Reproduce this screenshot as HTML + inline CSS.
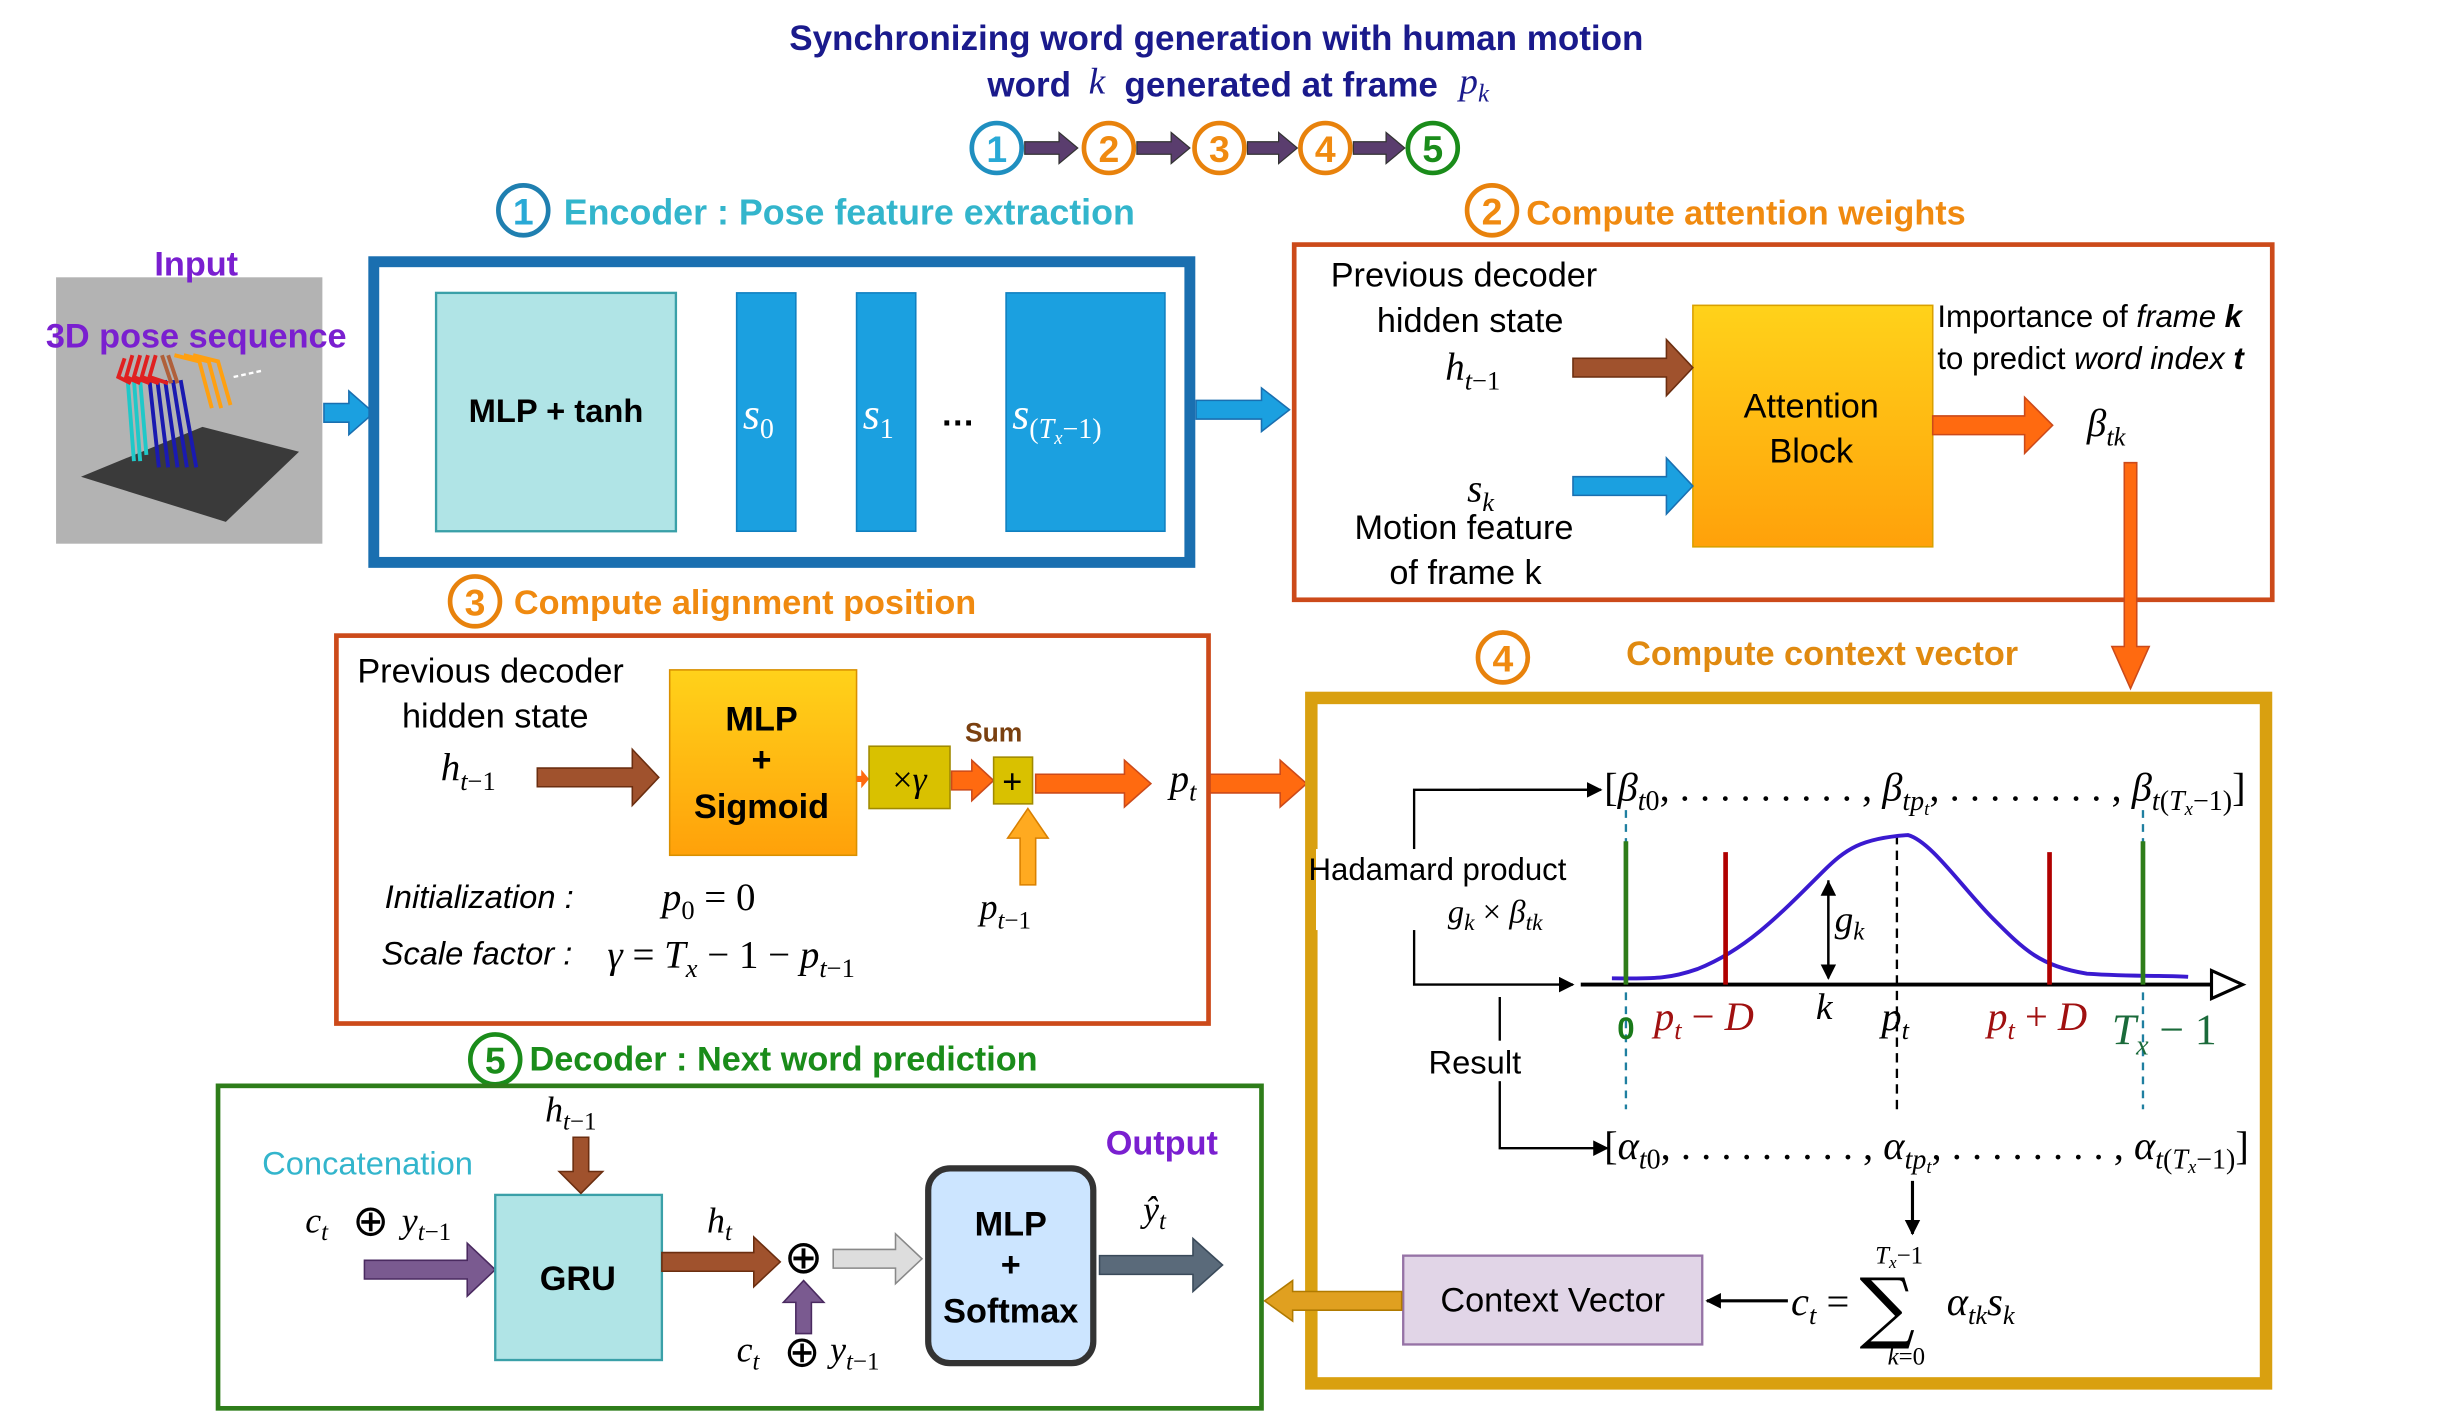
<!DOCTYPE html>
<html><head><meta charset="utf-8"><style>
html,body{margin:0;padding:0;background:#fff;}
svg{display:block;}
.s{font-family:"Liberation Sans",sans-serif;}
.m{font-family:"Liberation Serif",serif;font-style:italic;}
</style></head><body>
<svg width="2442" height="1413" viewBox="0 0 1568 907" preserveAspectRatio="none" xmlns="http://www.w3.org/2000/svg">
<defs>
<linearGradient id="og" x1="0" y1="0" x2="0" y2="1"><stop offset="0" stop-color="#ffd21a"/><stop offset="1" stop-color="#ffa10a"/></linearGradient>
<marker id="ah" markerWidth="10" markerHeight="10" refX="9" refY="5" orient="auto" markerUnits="userSpaceOnUse"><path d="M0,0 L10,5 L0,10 z" fill="#000"/></marker>
</defs>
<rect width="1568" height="907" fill="#fff"/>

<text x="781" y="32" class="s" font-weight="bold" fill="#1a1a8c" font-size="22.5" text-anchor="middle">Synchronizing word generation with human motion</text>
<text x="634" y="62" class="s" font-weight="bold" fill="#1a1a8c" font-size="22.5">word</text>
<text x="699" y="60" class="m" font-size="24" fill="#1a1a8c">k</text>
<text x="722" y="62" class="s" font-weight="bold" fill="#1a1a8c" font-size="22.5">generated at frame</text>
<text x="937" y="60" class="m" font-size="24" fill="#1a1a8c">p<tspan font-size="16" dy="5">k</tspan></text>

<g stroke-width="3" fill="none">
<circle cx="640" cy="95" r="16" stroke="#1f8fc0"/><circle cx="712" cy="95" r="16" stroke="#e8820c"/>
<circle cx="783" cy="95" r="16" stroke="#e8820c"/><circle cx="851" cy="95" r="16" stroke="#e8820c"/>
<circle cx="920" cy="95" r="16" stroke="#1a8c1a"/>
</g>
<g class="s" font-weight="bold" font-size="24" text-anchor="middle">
<text x="640" y="104" fill="#29a9d6">1</text><text x="712" y="104" fill="#f08a10">2</text>
<text x="783" y="104" fill="#f08a10">3</text><text x="851" y="104" fill="#f08a10">4</text>
<text x="920" y="104" fill="#1a8c1a">5</text>
</g>
<g fill="#5a3d6e" stroke="#333" stroke-width="0.8">
<polygon points="658,91 680,91 680,85 692,95 680,105 680,99 658,99"/>
<polygon points="730,91 752,91 752,85 764,95 752,105 752,99 730,99"/>
<polygon points="801,91 821,91 821,85 833,95 821,105 821,99 801,99"/>
<polygon points="869,91 890,91 890,85 902,95 890,105 890,99 869,99"/>
</g>

<circle cx="336" cy="135" r="16" fill="none" stroke="#1f7fb0" stroke-width="3"/>
<text x="336" y="144" class="s" font-weight="bold" font-size="24" text-anchor="middle" fill="#29a9d6">1</text>
<text x="362" y="144" class="s" font-weight="bold" font-size="23" fill="#33b5cc">Encoder : Pose feature extraction</text>

<rect x="36" y="178" width="171" height="171" fill="#b3b3b3"/>
<polygon points="52,306 130,274 192,290 145,335" fill="#3a3a3a"/>
<g stroke-width="2.5" fill="none">
<path d="M82,244 L86,296 M86,244 L90,296 M90,244 L94,292" stroke="#20c8c8"/>
<path d="M96,244 L102,300 M101,244 L108,300 M106,244 L114,300 M111,244 L120,300 M116,244 L126,300" stroke="#1a1ab0"/>
<path d="M80,230 L76,242 L84,246 M85,228 L81,242 L90,246 M90,228 L86,242 L96,246 M95,228 L91,242 L102,246 M100,228 L96,242 L108,246" stroke="#e02020"/>
<path d="M104,228 L110,246 M108,228 L114,246" stroke="#b0603a"/>
<path d="M112,228 L128,232 L136,262 M118,228 L134,232 L142,262 M124,228 L140,232 L148,260" stroke="#ffa010"/>
<path d="M150,242 L168,238" stroke="#fff" stroke-dasharray="3,2" stroke-width="1.5"/>
</g>
<text x="126" y="177" class="s" font-weight="bold" font-size="22" text-anchor="middle" fill="#7a1fd0">Input</text>
<text x="126" y="223" class="s" font-weight="bold" font-size="22" text-anchor="middle" fill="#7a1fd0">3D pose sequence</text>

<polygon points="208,259 224,259 224,251 240,265 224,279 224,271 208,271" fill="#1ba0e0" stroke="#1a6fb0"/>
<rect x="240" y="168" width="524" height="193" fill="none" stroke="#1a6fb0" stroke-width="7"/>
<rect x="280" y="188" width="154" height="153" fill="#b0e4e6" stroke="#3aa0a8" stroke-width="1.5"/>
<text x="357" y="271" class="s" font-weight="bold" font-size="21" text-anchor="middle">MLP + tanh</text>
<g fill="#1ba0e0" stroke="#1080c0"><rect x="473" y="188" width="38" height="153"/><rect x="550" y="188" width="38" height="153"/><rect x="646" y="188" width="102" height="153"/></g>
<g class="m" fill="#fff" font-size="28">
<text x="477" y="275">s<tspan font-size="18" dy="6" font-style="normal">0</tspan></text>
<text x="554" y="275">s<tspan font-size="18" dy="6" font-style="normal">1</tspan></text>
<text x="650" y="275">s<tspan font-size="18" dy="6" font-style="normal">(</tspan><tspan font-size="18">T</tspan><tspan font-size="12" dy="4">x</tspan><tspan font-size="18" dy="-4" font-style="normal">−1)</tspan></text>
</g>
<text x="615" y="273" class="s" font-weight="bold" font-size="22" text-anchor="middle">…</text>
<polygon points="768,257 810,257 810,249 828,263 810,277 810,269 768,269" fill="#1ba0e0" stroke="#1a6fb0"/>

<circle cx="958" cy="135" r="16" fill="none" stroke="#e8820c" stroke-width="3"/>
<text x="958" y="144" class="s" font-weight="bold" font-size="24" text-anchor="middle" fill="#f08a10">2</text>
<text x="980" y="144" class="s" font-weight="bold" font-size="22" fill="#f08a10">Compute attention weights</text>
<rect x="831" y="157" width="628" height="228" fill="none" stroke="#cc4a1a" stroke-width="3"/>
<rect x="1087" y="196" width="154" height="155" fill="url(#og)" stroke="#d9a000"/>
<g class="s" font-size="22" text-anchor="middle">
<text x="940" y="184">Previous decoder</text><text x="944" y="213">hidden state</text>
<text x="940" y="346">Motion feature</text><text x="941" y="375">of frame k</text>
<text x="1163" y="268">Attention</text><text x="1163" y="297">Block</text>
</g>
<text x="928" y="244" class="m" font-size="25">h<tspan font-size="17" dy="6">t</tspan><tspan font-size="17" font-style="normal">−1</tspan></text>
<text x="942" y="322" class="m" font-size="25">s<tspan font-size="17" dy="6">k</tspan></text>
<polygon points="1010,230 1070,230 1070,218 1087,236 1070,254 1070,242 1010,242" fill="#a0522d" stroke="#6b2e10"/>
<polygon points="1010,306 1070,306 1070,294 1087,312 1070,330 1070,318 1010,318" fill="#1ba0e0" stroke="#1a6fb0"/>
<polygon points="1241,267 1300,267 1300,255 1318,273 1300,291 1300,279 1241,279" fill="#ff6a10" stroke="#cc4a1a"/>
<text x="1340" y="280" class="m" font-size="25">β<tspan font-size="17" dy="6">tk</tspan></text>
<text x="1244" y="210" class="s" font-size="20">Importance of <tspan font-style="italic">frame</tspan> <tspan font-weight="bold" font-style="italic">k</tspan></text>
<text x="1244" y="237" class="s" font-size="20">to predict <tspan font-style="italic">word index</tspan> <tspan font-weight="bold" font-style="italic">t</tspan></text>
<polygon points="1364,297 1372,297 1372,415 1380,415 1368,442 1356,415 1364,415" fill="#ff6a10" stroke="#cc4a1a"/>

<circle cx="305" cy="386" r="16" fill="none" stroke="#e8820c" stroke-width="3"/>
<text x="305" y="395" class="s" font-weight="bold" font-size="24" text-anchor="middle" fill="#f08a10">3</text>
<text x="330" y="394" class="s" font-weight="bold" font-size="22" fill="#f08a10">Compute alignment position</text>
<rect x="216" y="408" width="560" height="249" fill="none" stroke="#cc4a1a" stroke-width="3"/>
<g class="s" font-size="22" text-anchor="middle"><text x="315" y="438">Previous decoder</text><text x="318" y="467">hidden state</text></g>
<text x="283" y="501" class="m" font-size="25">h<tspan font-size="17" dy="6">t</tspan><tspan font-size="17" font-style="normal">−1</tspan></text>
<polygon points="345,493 406,493 406,481 423,499 406,517 406,505 345,505" fill="#a0522d" stroke="#6b2e10"/>
<rect x="430" y="430" width="120" height="119" fill="url(#og)" stroke="#d99000"/>
<g class="s" font-weight="bold" font-size="22" text-anchor="middle"><text x="489" y="469">MLP</text><text x="489" y="495">+</text><text x="489" y="525">Sigmoid</text></g>
<polygon points="550,498 553,498 553,494 558,500 553,506 553,502 550,502" fill="#ff6a10"/>
<rect x="558" y="479" width="52" height="40" fill="#d9c100" stroke="#a08a00"/>
<text x="584" y="508" class="m" font-size="23" text-anchor="middle"><tspan font-style="normal">×</tspan>γ</text>
<polygon points="611,495 624,495 624,488 638,501 624,514 624,507 611,507" fill="#ff6a10" stroke="#cc4a1a"/>
<text x="638" y="476" class="s" font-weight="bold" font-size="17" text-anchor="middle" fill="#7a4010">Sum</text>
<rect x="638" y="486" width="25" height="30" fill="#d9c100" stroke="#a08a00"/>
<text x="650" y="509" class="s" font-size="22" text-anchor="middle">+</text>
<polygon points="655,568 665,568 665,538 673,538 660,519 647,538 655,538" fill="#ffaa20" stroke="#d98000"/>
<text x="629" y="590" class="m" font-size="23">p<tspan font-size="16" dy="6">t</tspan><tspan font-size="16" font-style="normal">−1</tspan></text>
<polygon points="665,497 722,497 722,488 739,503 722,518 722,509 665,509" fill="#ff6a10" stroke="#cc4a1a"/>
<text x="751" y="508" class="m" font-size="25">p<tspan font-size="17" dy="6">t</tspan></text>
<polygon points="777,497 822,497 822,488 839,503 822,518 822,509 777,509" fill="#ff6a10" stroke="#cc4a1a"/>
<text x="247" y="583" class="s" font-style="italic" font-size="21">Initialization :</text>
<text x="425" y="584" class="m" font-size="25">p<tspan font-size="17" dy="6" font-style="normal">0</tspan><tspan dy="-6" font-style="normal"> = 0</tspan></text>
<text x="245" y="619" class="s" font-style="italic" font-size="21">Scale factor :</text>
<text x="390" y="621" class="m" font-size="25">γ <tspan font-style="normal">=</tspan> T<tspan font-size="17" dy="6">x</tspan><tspan dy="-6" font-style="normal"> − 1 − </tspan>p<tspan font-size="17" dy="6">t</tspan><tspan font-size="17" font-style="normal">−1</tspan></text>

<circle cx="965" cy="422" r="16" fill="none" stroke="#e8820c" stroke-width="3"/>
<text x="965" y="431" class="s" font-weight="bold" font-size="24" text-anchor="middle" fill="#f08a10">4</text>
<text x="1170" y="427" class="s" font-weight="bold" font-size="22" text-anchor="middle" fill="#e08a10">Compute context vector</text>
<rect x="842" y="448" width="613" height="440" fill="none" stroke="#d9a010" stroke-width="8"/>

<text x="1030" y="514" class="m" font-size="26"><tspan font-style="normal">[</tspan>β<tspan font-size="18" dy="6">t</tspan><tspan font-size="18" font-style="normal">0</tspan><tspan dy="-6" font-style="normal">, . . . . . . . . . , </tspan>β<tspan font-size="18" dy="6">tp</tspan><tspan font-size="12" dy="3">t</tspan><tspan dy="-9" font-style="normal">, . . . . . . . . , </tspan>β<tspan font-size="18" dy="6">t</tspan><tspan font-size="18" font-style="normal">(</tspan><tspan font-size="18">T</tspan><tspan font-size="12" dy="3">x</tspan><tspan font-size="18" dy="-3" font-style="normal">−1)</tspan><tspan dy="-6" font-style="normal">]</tspan></text>
<text x="1030" y="744" class="m" font-size="26"><tspan font-style="normal">[</tspan>α<tspan font-size="18" dy="6">t</tspan><tspan font-size="18" font-style="normal">0</tspan><tspan dy="-6" font-style="normal">, . . . . . . . . . , </tspan>α<tspan font-size="18" dy="6">tp</tspan><tspan font-size="12" dy="3">t</tspan><tspan dy="-9" font-style="normal">, . . . . . . . . , </tspan>α<tspan font-size="18" dy="6">t</tspan><tspan font-size="18" font-style="normal">(</tspan><tspan font-size="18">T</tspan><tspan font-size="12" dy="3">x</tspan><tspan font-size="18" dy="-3" font-style="normal">−1)</tspan><tspan dy="-6" font-style="normal">]</tspan></text>

<g fill="none" stroke-width="2">
<line x1="1044" y1="520" x2="1044" y2="712" stroke="#1f7fa0" stroke-dasharray="5,4" stroke-width="1.5"/>
<line x1="1376" y1="520" x2="1376" y2="712" stroke="#1f7fa0" stroke-dasharray="5,4" stroke-width="1.5"/>
<line x1="1218" y1="536" x2="1218" y2="712" stroke="#000" stroke-dasharray="6,4" stroke-width="1.5"/>
<line x1="1015" y1="632" x2="1420" y2="632" stroke="#000" stroke-width="2.5"/>
<polygon points="1420,623 1440,632 1420,641" stroke="#000" fill="#fff"/>
<path d="M1035,628 C1060,628 1070,629 1090,622 C1120,610 1140,590 1170,560 C1185,545 1195,538 1225,536 C1240,540 1260,570 1280,590 C1300,610 1310,620 1340,625 C1370,627 1390,626 1405,627" stroke="#3a1ad0" stroke-width="2.5"/>
<line x1="1044" y1="540" x2="1044" y2="632" stroke="#2e7d1a" stroke-width="3"/>
<line x1="1376" y1="540" x2="1376" y2="632" stroke="#2e7d1a" stroke-width="3"/>
<line x1="1108" y1="547" x2="1108" y2="632" stroke="#b00000" stroke-width="3"/>
<line x1="1316" y1="547" x2="1316" y2="632" stroke="#b00000" stroke-width="3"/>
<line x1="1174" y1="565" x2="1174" y2="628" stroke="#000" stroke-width="1.5" marker-end="url(#ah)"/>
<line x1="1174" y1="620" x2="1174" y2="566" stroke="#000" stroke-width="1.5" marker-end="url(#ah)"/>
<polyline points="1028,507 908,507 908,632 1010,632" stroke="#000" stroke-width="1.5" marker-end="url(#ah)"/>
<line x1="950" y1="507" x2="1028" y2="507" stroke="#000" stroke-width="1.5" marker-end="url(#ah)"/>
<polyline points="963,640 963,737 1032,737" stroke="#000" stroke-width="1.5" marker-end="url(#ah)"/>
<line x1="1228" y1="758" x2="1228" y2="792" stroke="#000" stroke-width="2" marker-end="url(#ah)"/>
<line x1="1148" y1="835" x2="1096" y2="835" stroke="#000" stroke-width="2" marker-end="url(#ah)"/>
</g>
<rect x="845" y="545" width="185" height="52" fill="#fff"/>
<text x="923" y="565" class="s" font-size="20" text-anchor="middle">Hadamard product</text>
<text x="960" y="592" class="m" font-size="21" text-anchor="middle">g<tspan font-size="15" dy="5">k</tspan><tspan dy="-5" font-style="normal"> × </tspan>β<tspan font-size="15" dy="5">tk</tspan></text>
<rect x="912" y="668" width="70" height="26" fill="#fff"/>
<text x="947" y="689" class="s" font-size="21" text-anchor="middle">Result</text>
<text x="1178" y="598" class="m" font-size="24">g<tspan font-size="16" dy="5">k</tspan></text>
<text x="1044" y="667" class="s" font-size="20" text-anchor="middle" fill="#1a7a1a" font-weight="bold">0</text>
<text x="1062" y="661" class="m" font-size="26" fill="#a01010">p<tspan font-size="17" dy="6">t</tspan><tspan dy="-6" font-style="normal"> − </tspan>D</text>
<text x="1166" y="654" class="m" font-size="24">k</text>
<text x="1208" y="661" class="m" font-size="26">p<tspan font-size="17" dy="6">t</tspan></text>
<text x="1276" y="661" class="m" font-size="26" fill="#a01010">p<tspan font-size="17" dy="6">t</tspan><tspan dy="-6" font-style="normal"> + </tspan>D</text>
<text x="1356" y="670" class="m" font-size="28" fill="#1a6a3a">T<tspan font-size="18" dy="7">x</tspan><tspan dy="-7" font-style="normal"> − 1</tspan></text>

<text x="1150" y="844" class="m" font-size="26">c<tspan font-size="17" dy="6">t</tspan><tspan dy="-6" font-style="normal"> = </tspan></text>
<text x="1194" y="856" font-family="DejaVu Serif,serif" font-size="50">∑</text>
<text x="1204" y="811" class="m" font-size="16">T<tspan font-size="11" dy="3">x</tspan><tspan dy="-3" font-style="normal">−1</tspan></text>
<text x="1212" y="876" class="m" font-size="16">k<tspan font-style="normal">=0</tspan></text>
<text x="1250" y="844" class="m" font-size="26">α<tspan font-size="17" dy="6">tk</tspan><tspan dy="-6">s</tspan><tspan font-size="17" dy="6">k</tspan></text>
<rect x="901" y="806" width="192" height="57" fill="#e1d5e7" stroke="#9673a6" stroke-width="1.5"/>
<text x="997" y="842" class="s" font-size="22" text-anchor="middle">Context Vector</text>
<polygon points="900,829 830,829 830,822 812,835 830,848 830,841 900,841" fill="#e0a020" stroke="#b07a00"/>

<circle cx="318" cy="680" r="16" fill="none" stroke="#1a8c1a" stroke-width="3"/>
<text x="318" y="689" class="s" font-weight="bold" font-size="24" text-anchor="middle" fill="#1a8c1a">5</text>
<text x="340" y="687" class="s" font-weight="bold" font-size="22" fill="#1a8c1a">Decoder : Next word prediction</text>
<rect x="140" y="697" width="670" height="207" fill="none" stroke="#2e7d1a" stroke-width="3"/>
<text x="236" y="754" class="s" font-size="21" text-anchor="middle" fill="#33b5cc">Concatenation</text>
<text x="196" y="791" class="m" font-size="23">c<tspan font-size="16" dy="5">t</tspan></text>
<text x="238" y="793" font-family="DejaVu Sans,sans-serif" font-size="28" text-anchor="middle">⊕</text>
<text x="258" y="791" class="m" font-size="23">y<tspan font-size="16" dy="5">t</tspan><tspan font-size="16" font-style="normal">−1</tspan></text>
<polygon points="234,809 300,809 300,798 318,815 300,832 300,821 234,821" fill="#7a5a90" stroke="#4a2a60"/>
<rect x="318" y="767" width="107" height="106" fill="#b0e4e6" stroke="#3aa0a8" stroke-width="1.5"/>
<text x="371" y="828" class="s" font-weight="bold" font-size="22" text-anchor="middle">GRU</text>
<text x="350" y="720" class="m" font-size="23">h<tspan font-size="16" dy="5">t</tspan><tspan font-size="16" font-style="normal">−1</tspan></text>
<polygon points="368,730 378,730 378,752 387,752 373,766 359,752 368,752" fill="#a0522d" stroke="#6b2e10"/>
<polygon points="425,804 484,804 484,794 501,810 484,826 484,816 425,816" fill="#a0522d" stroke="#6b2e10"/>
<text x="454" y="791" class="m" font-size="23">h<tspan font-size="16" dy="5">t</tspan></text>
<text x="516" y="817" font-family="DejaVu Sans,sans-serif" font-size="30" text-anchor="middle">⊕</text>
<polygon points="511,856 521,856 521,836 529,836 516,822 503,836 511,836" fill="#7a5a90" stroke="#4a2a60"/>
<text x="473" y="874" class="m" font-size="23">c<tspan font-size="16" dy="5">t</tspan></text>
<text x="515" y="877" font-family="DejaVu Sans,sans-serif" font-size="28" text-anchor="middle">⊕</text>
<text x="533" y="874" class="m" font-size="23">y<tspan font-size="16" dy="5">t</tspan><tspan font-size="16" font-style="normal">−1</tspan></text>
<polygon points="535,802 575,802 575,792 592,808 575,824 575,814 535,814" fill="#ddd" stroke="#888"/>
<rect x="596" y="750" width="106" height="125" rx="14" fill="#cce5ff" stroke="#333" stroke-width="4"/>
<g class="s" font-weight="bold" font-size="22" text-anchor="middle"><text x="649" y="793">MLP</text><text x="649" y="819">+</text><text x="649" y="849">Softmax</text></g>
<text x="746" y="741" class="s" font-weight="bold" font-size="22" text-anchor="middle" fill="#7a1fd0">Output</text>
<text x="734" y="784" class="m" font-size="23">ŷ<tspan font-size="16" dy="5">t</tspan></text>
<polygon points="706,806 766,806 766,795 785,812 766,829 766,818 706,818" fill="#5a6a7a" stroke="#3a4a5a"/>
</svg>
</body></html>
